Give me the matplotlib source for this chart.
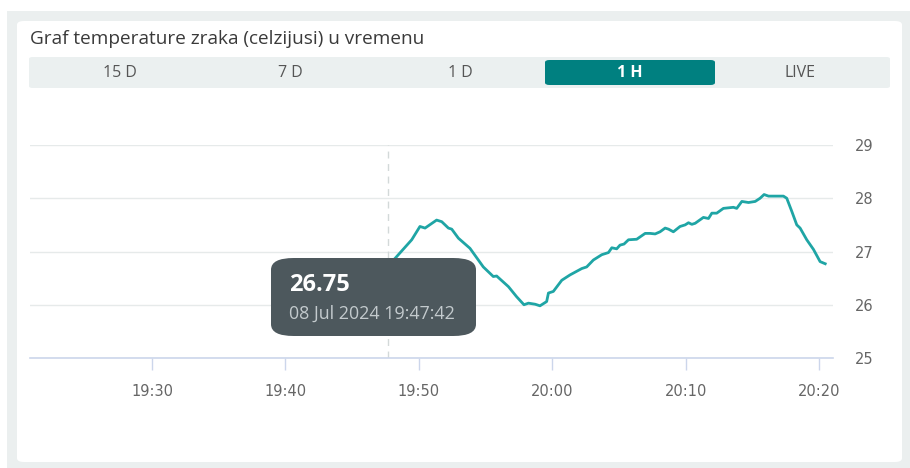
import pandas as pd
import matplotlib.pyplot as plt
import matplotlib.dates as mdates
from matplotlib.patches import FancyBboxPatch, Rectangle

# temperature readings, 08 Jul 2024
day = '2024-07-08'
times = ['19:47:42', '19:48:13', '19:49:28', '19:50:05', '19:50:28', '19:51:20', '19:51:43',
         '19:52:13', '19:52:28', '19:52:58', '19:53:50', '19:54:50', '19:55:35', '19:55:50',
         '19:56:43', '19:57:20', '19:57:53', '19:58:13', '19:58:43', '19:59:05', '19:59:35',
         '19:59:43', '20:00:05', '20:00:43', '20:01:20', '20:02:13', '20:02:35', '20:03:05',
         '20:03:43', '20:04:13', '20:04:28', '20:04:50', '20:05:05', '20:05:23', '20:05:43',
         '20:06:20', '20:06:58', '20:07:20', '20:07:43', '20:08:05', '20:08:28', '20:08:43',
         '20:09:05', '20:09:35', '20:09:58', '20:10:13', '20:10:28', '20:10:43', '20:11:20',
         '20:11:43', '20:11:58', '20:12:20', '20:12:50', '20:13:35', '20:13:50', '20:14:13',
         '20:14:43', '20:15:13', '20:15:35', '20:15:53', '20:16:13', '20:17:20', '20:17:35',
         '20:17:58', '20:18:20', '20:18:35', '20:19:05', '20:19:35', '20:20:05', '20:20:28']
temps = [26.75, 26.87, 27.22, 27.47, 27.44, 27.59, 27.56,
         27.44, 27.42, 27.25, 27.06, 26.71, 26.53, 26.54,
         26.34, 26.15, 26.00, 26.03, 26.01, 25.98, 26.06,
         26.22, 26.25, 26.46, 26.56, 26.68, 26.71, 26.84,
         26.94, 26.98, 27.07, 27.05, 27.12, 27.14, 27.22,
         27.23, 27.34, 27.34, 27.33, 27.37, 27.44, 27.42,
         27.37, 27.47, 27.50, 27.54, 27.51, 27.53, 27.64,
         27.62, 27.72, 27.72, 27.81, 27.83, 27.81, 27.94,
         27.92, 27.94, 28.00, 28.07, 28.04, 28.04, 28.00,
         27.75, 27.50, 27.44, 27.22, 27.04, 26.81, 26.77]
y_ticks = [25, 26, 27, 28, 29]
x_ticks = ['19:30', '19:40', '19:50', '20:00', '20:10', '20:20']
tabs = ['15 D', '7 D', '1 D', '1 H', 'LIVE']
active_tab = '1 H'
hover_idx = 0

t = pd.to_datetime([f'{day} {s}' for s in times])
W, H = 910, 468


def fx(x):
    return x / W


def fy(y):
    return 1 - y / H


fig = plt.figure(figsize=(W / 100, H / 100), dpi=100, facecolor='white')

# page background and card
fig.patches.append(Rectangle((fx(7), 0), 1 - fx(7), fy(11), transform=fig.transFigure,
                             facecolor='#ebefef', edgecolor='none', zorder=0))
fig.patches.append(FancyBboxPatch((fx(17), fy(462)), fx(885), 441 / H,
                                  boxstyle='round,pad=0,rounding_size=0.008',
                                  transform=fig.transFigure, facecolor='white',
                                  edgecolor='none', zorder=1))

fig.text(fx(30), fy(39), 'Graf temperature zraka (celzijusi) u vremenu', family='Open Sans',
         fontsize=13.7, fontweight='medium', color='#3a3a3a', va='center', ha='left')

# range selector
fig.patches.append(FancyBboxPatch((fx(29), fy(88)), fx(861), 31 / H,
                                  boxstyle='round,pad=0,rounding_size=0.004',
                                  transform=fig.transFigure, facecolor='#ebf0f0',
                                  edgecolor='none', zorder=2))
for i, lab in enumerate(tabs):
    cx = 120 + i * 170
    if lab == active_tab:
        fig.patches.append(FancyBboxPatch((fx(cx - 85), fy(85)), fx(170), 25 / H,
                                          boxstyle='round,pad=0,rounding_size=0.005',
                                          transform=fig.transFigure, facecolor='#008080',
                                          edgecolor='none', zorder=3))
        fig.text(fx(cx), fy(73), lab, family='Open Sans', fontsize=11.5, fontweight='bold',
                 color='white', ha='center', va='center', zorder=4)
    else:
        fig.text(fx(cx), fy(73), lab, family='Open Sans', fontsize=11.5, color='#555555',
                 ha='center', va='center', zorder=4)

# chart area
ax = fig.add_axes([fx(30), fy(358), fx(803), 213 / H])
ax.set_facecolor('none')
ax.set_zorder(5)
ax.plot(t, temps, color='#1fa5a5', lw=2.0, solid_joinstyle='round', zorder=3)
ax.axvline(t[hover_idx], color='#d3d9d9', lw=1, ls=(0, (5, 4)), zorder=2)

ax.set_ylim(25, 29)
ax.set_yticks(y_ticks)
ax.yaxis.tick_right()
ax.grid(axis='y', color='#e6eaea', lw=1)
ax.set_xlim(pd.Timestamp(f'{day} 19:20:51'), pd.Timestamp(f'{day} 20:21:03'))
ax.set_xticks(pd.to_datetime([f'{day} {s}' for s in x_ticks]))
ax.xaxis.set_major_formatter(mdates.DateFormatter('%H:%M'))

for s in ['top', 'left', 'right']:
    ax.spines[s].set_visible(False)
ax.spines['bottom'].set_color('#ccd6eb')
ax.spines['bottom'].set_linewidth(1.2)
ax.tick_params(axis='x', length=8.6, width=1, color='#ccd6eb', pad=10, labelsize=10.5,
               labelcolor='#666666')
ax.tick_params(axis='y', length=0, pad=16, labelsize=10.5, labelcolor='#666666')
for lab in ax.get_xticklabels() + ax.get_yticklabels():
    lab.set_family(['Liberation Sans Narrow', 'DejaVu Sans'])

# tooltip for the hovered reading
tip = FancyBboxPatch((fx(271), fy(336)), fx(205), 78 / H,
                     boxstyle='round,pad=0,rounding_size=0.025',
                     transform=fig.transFigure, facecolor='#4d585d',
                     edgecolor='none', zorder=10)
fig.patches.append(tip)
fig.text(fx(289), fy(285), f'{temps[hover_idx]:.2f}', family='Open Sans', fontsize=17,
         fontweight='bold', color='white', ha='left', va='center', zorder=11)
fig.text(fx(289), fy(314), t[hover_idx].strftime('%d %b %Y %H:%M:%S'), family='Open Sans',
         fontsize=12.9, color='#c3cacd', ha='left', va='center', zorder=11)

plt.savefig('out.png', dpi=100, facecolor='white')
